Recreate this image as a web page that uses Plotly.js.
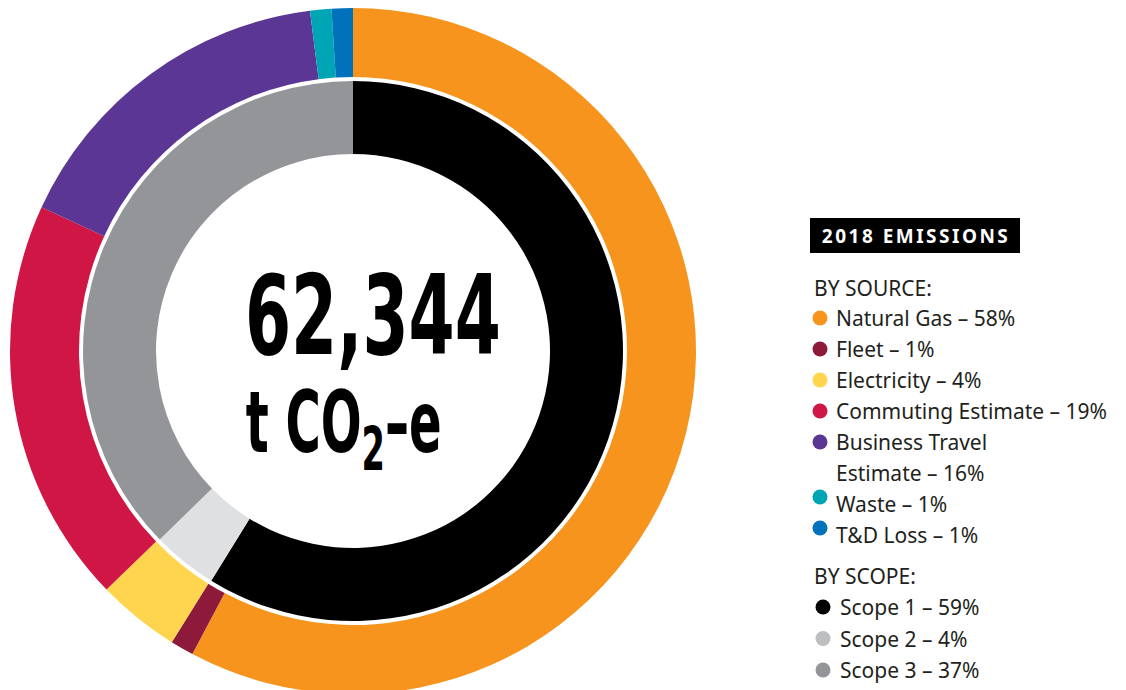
<!DOCTYPE html>
<html>
<head>
<meta charset="utf-8">
<script src="https://cdn.plot.ly/plotly-3.0.1.min.js"></script>
<style>
html,body{margin:0;padding:0;overflow:hidden;background:#fff;}
#chart{width:1126px;height:702px;}
</style>
</head>
<body>
<div id="chart"></div>
<script>
// ---- data ----
const sourceLabels = ['Natural Gas', 'Fleet', 'Electricity', 'Commuting Estimate', 'Business Travel Estimate', 'Waste', 'T&D Loss'];
const sourceValues = [57.7, 1.1, 3.9, 19.1, 16.1, 1.0, 1.0];
const sourcePct = [58, 1, 4, 19, 16, 1, 1];
const sourceColors = ['#F7941D', '#8E1A3B', '#FFD54F', '#CF1645', '#5C3694', '#00A5B5', '#0072BC'];

const scopeLabels = ['Scope 1', 'Scope 2', 'Scope 3'];
const scopeValues = [58.8, 3.9, 37.3];
const scopePct = [59, 4, 37];
const scopeColors = ['#000000', '#DFE0E2', '#939598'];
const scopeDotColors = ['#000000', '#BDBEC0', '#939598'];

const totalText = '62,344';
const unitText = 't CO<sub>2</sub>–e';
const headerText = '2018 EMISSIONS';
const sourceHeader = 'BY SOURCE:';
const scopeHeader = 'BY SCOPE:';

// ---- layout helpers ----
const W = 1126, H = 702;
const fx = x => x / W;
const fy = y => 1 - y / H;

const cx = 353, cy = 351;
const rOuter = 343, rOuterHole = 274;
const rInner = 270, rInnerHole = 197;

const outerPie = {
  type: 'pie', labels: sourceLabels, values: sourceValues, sort: false,
  direction: 'clockwise', rotation: 0,
  marker: {colors: sourceColors, line: {width: 0}},
  hole: rOuterHole / rOuter, textinfo: 'none', hoverinfo: 'label+percent',
  domain: {x: [fx(cx - rOuter), fx(cx + rOuter)], y: [fy(cy + rOuter), fy(cy - rOuter)]}
};
const innerPie = {
  type: 'pie', labels: scopeLabels, values: scopeValues, sort: false,
  direction: 'clockwise', rotation: 0,
  marker: {colors: scopeColors, line: {width: 0}},
  hole: rInnerHole / rInner, textinfo: 'none', hoverinfo: 'label+percent',
  domain: {x: [fx(cx - rInner), fx(cx + rInner)], y: [fy(cy + rInner), fy(cy - rInner)]}
};

const legendFont = {family: '"Noto Sans", "Open Sans", sans-serif', size: 21, color: '#231F20'};
const annotations = [];
const shapes = [];

// center text
annotations.push({xref: 'paper', yref: 'paper', x: fx(373), y: fy(316), xanchor: 'center', yanchor: 'middle',
  text: '<b>' + totalText + '</b>', showarrow: false,
  font: {family: '"DejaVu Sans Condensed", "DejaVu Sans", sans-serif', size: 110, color: '#000', weight: 700}});
annotations.push({xref: 'paper', yref: 'paper', x: fx(343), y: fy(428), xanchor: 'center', yanchor: 'middle',
  text: '<b>' + unitText + '</b>', showarrow: false,
  font: {family: '"DejaVu Sans Condensed", "DejaVu Sans", sans-serif', size: 86, color: '#000', weight: 700}});

// header box
shapes.push({type: 'rect', xref: 'paper', yref: 'paper', x0: fx(810), x1: fx(1020), y0: fy(253), y1: fy(218),
  fillcolor: '#000', line: {width: 0}});
annotations.push({xref: 'paper', yref: 'paper', x: fx(915), y: fy(236), xanchor: 'center', yanchor: 'middle',
  text: '<b>' + headerText + '</b>', showarrow: false,
  font: {family: '"Noto Sans", sans-serif', size: 19, color: '#fff'}});

// legend (source)
annotations.push({xref: 'paper', yref: 'paper', x: fx(812), y: fy(288), xanchor: 'left', yanchor: 'middle',
  text: sourceHeader, showarrow: false, font: legendFont});
let rowY = 318;
const rowStep = 31;
const wrapAt = {'Business Travel Estimate': ['Business Travel', 'Estimate']};
const dotOffset = {'Waste': -7, 'T&D Loss': -7};
sourceLabels.forEach((lab, i) => {
  const lines = wrapAt[lab] ? wrapAt[lab].slice() : [lab];
  lines[lines.length - 1] += ' – ' + sourcePct[i] + '%';
  const dy = (dotOffset[lab] || 0);
  shapes.push({type: 'circle', xref: 'paper', yref: 'paper',
    x0: fx(820 - 7.5), x1: fx(820 + 7.5), y0: fy(rowY + dy + 7.5), y1: fy(rowY + dy - 7.5),
    fillcolor: sourceColors[i], line: {width: 0}});
  lines.forEach(line => {
    annotations.push({xref: 'paper', yref: 'paper', x: fx(834), y: fy(rowY), xanchor: 'left', yanchor: 'middle',
      text: line, showarrow: false, font: legendFont});
    rowY += rowStep;
  });
});

// legend (scope)
annotations.push({xref: 'paper', yref: 'paper', x: fx(812), y: fy(576), xanchor: 'left', yanchor: 'middle',
  text: scopeHeader, showarrow: false, font: legendFont});
rowY = 607;
scopeLabels.forEach((lab, i) => {
  shapes.push({type: 'circle', xref: 'paper', yref: 'paper',
    x0: fx(823 - 7.5), x1: fx(823 + 7.5), y0: fy(rowY + 7.5), y1: fy(rowY - 7.5),
    fillcolor: scopeDotColors[i], line: {width: 0}});
  annotations.push({xref: 'paper', yref: 'paper', x: fx(838), y: fy(rowY), xanchor: 'left', yanchor: 'middle',
    text: lab + ' – ' + scopePct[i] + '%', showarrow: false, font: legendFont});
  rowY += 31.5;
});

const layout = {
  width: W, height: H, margin: {l: 0, r: 0, t: 0, b: 0},
  paper_bgcolor: '#fff', showlegend: false,
  annotations: annotations, shapes: shapes
};

Plotly.newPlot('chart', [outerPie, innerPie], layout, {displayModeBar: false, staticPlot: true}).then(() => {
  const squeeze = (idx, len) => {
    const t = document.querySelector('g.annotation[data-index="' + idx + '"] text.annotation-text');
    if (t) { t.setAttribute('textLength', len); t.setAttribute('lengthAdjust', 'spacingAndGlyphs'); }
  };
  squeeze(0, 256);
  squeeze(1, 196);
  // header letter spacing
  const h = document.querySelector('g.annotation[data-index="2"] text.annotation-text');
  if (h) { h.setAttribute('textLength', 186); h.setAttribute('lengthAdjust', 'spacing'); }
});
</script>
</body>
</html>
